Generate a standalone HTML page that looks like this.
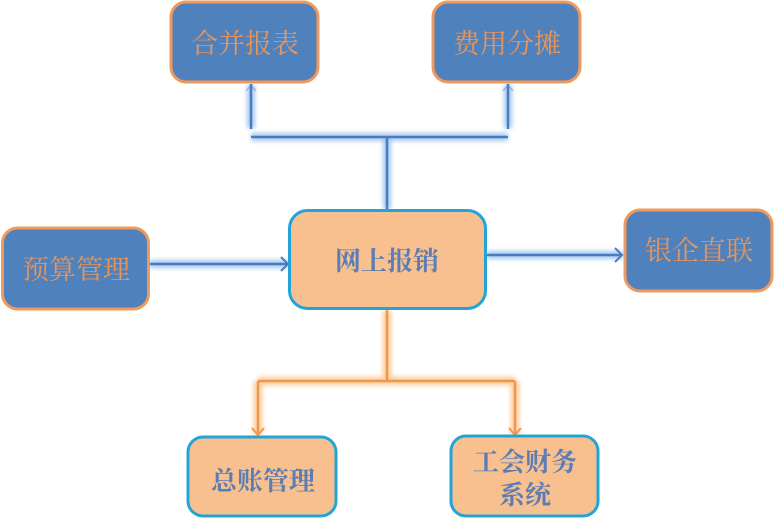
<!DOCTYPE html>
<html>
<head>
<meta charset="utf-8">
<style>
html,body{margin:0;padding:0;background:#fff;}
svg{display:block;}
text{font-family:"Liberation Serif","Noto Serif CJK SC",serif;font-size:27px;}
.bt{fill:#E8955A;}
.ot{fill:#5B7DB3;font-weight:bold;font-size:26px;}
</style>
</head>
<body>
<svg width="774" height="520" viewBox="0 0 774 520" xmlns="http://www.w3.org/2000/svg">
<defs>
<filter id="gb" x="-20%" y="-20%" width="140%" height="140%">
<feGaussianBlur stdDeviation="2"/>
</filter>
</defs>
<!-- blue connector glows -->
<g stroke="#9CC3EE" stroke-width="8" fill="none" filter="url(#gb)" opacity="0.9">
<path d="M251 85 V128 M508 85 V128 M251 137 H508 M387 137 V209"/>
<path d="M150 264 H288 M487 255 H623"/>
</g>
<g stroke="#4A7CC3" stroke-width="2.5" fill="none">
<path d="M251 84 V129 M508 84 V129 M251 137 H508 M387 137 V209"/>
<path d="M150 264 H288 M487 255 H622"/>
<path d="M281 257 L288 264 L281 271 M615 248 L622 255 L615 262" stroke-width="2"/>
<path d="M246 91 L251 85 L256 91 M503 91 L508 85 L513 91" stroke-width="1.5" opacity="0.4"/>
</g>
<!-- orange connector glows -->
<g stroke="#FBCB9A" stroke-width="9" fill="none" filter="url(#gb)" opacity="0.9">
<path d="M387 311 V381 M258 381 H515 M258 381 V435 M515 381 V435"/>
</g>
<g stroke="#F2964A" stroke-width="2.5" fill="none">
<path d="M387 310 V381 M258 381 H515 M258 381 V435 M515 381 V435"/>
<path d="M252 428 L258 435 L264 428 M509 428 L515 435 L521 428" stroke-width="2"/>
</g>
<!-- blue boxes -->
<g fill="#4F81BD" stroke="#F0995A" stroke-width="3">
<rect x="171" y="2" width="147" height="80" rx="15"/>
<rect x="433" y="2" width="147" height="80" rx="15"/>
<rect x="2.5" y="228" width="146" height="81" rx="15"/>
<rect x="625" y="210" width="147" height="81" rx="15"/>
</g>
<!-- peach boxes -->
<g fill="#F9C08F" stroke="#23A4D9" stroke-width="3">
<rect x="289.5" y="210.5" width="196" height="98" rx="18"/>
<rect x="188" y="437" width="148" height="79" rx="15"/>
<rect x="451" y="436" width="147" height="80" rx="15"/>
</g>
<g text-anchor="middle">
<text class="bt" x="245" y="53">合并报表</text>
<text class="bt" x="507" y="53">费用分摊</text>
<text class="bt" x="76" y="279">预算管理</text>
<text class="bt" x="699" y="260">银企直联</text>
<text class="ot" x="387" y="270">网上报销</text>
<text class="ot" x="263" y="490">总账管理</text>
<text class="ot" x="525" y="471">工会财务</text>
<text class="ot" x="525" y="504">系统</text>
</g>
</svg>
</body>
</html>
